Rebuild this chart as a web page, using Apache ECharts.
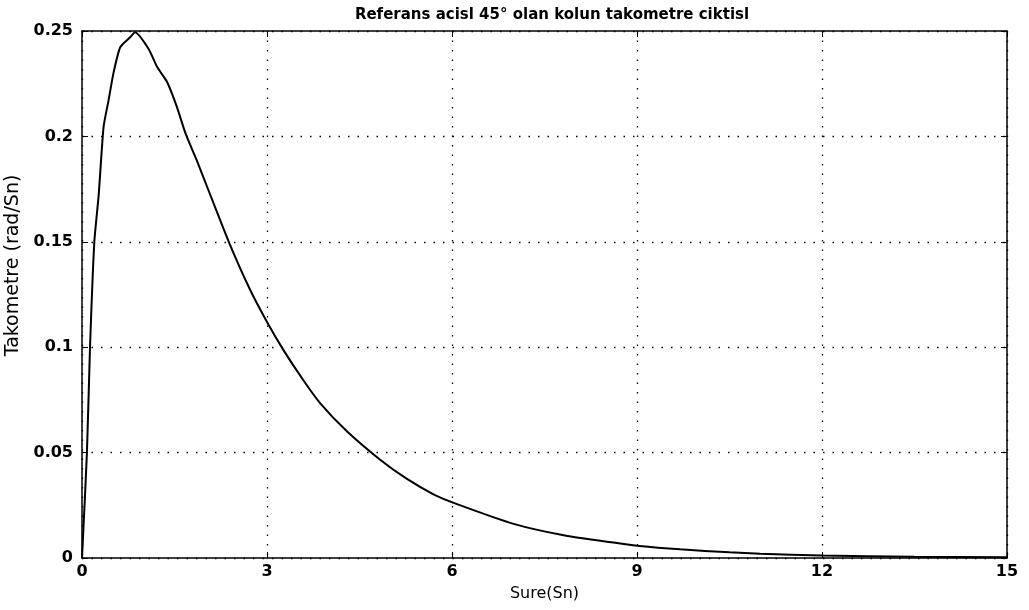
<!DOCTYPE html>
<html>
<head>
<meta charset="utf-8">
<script src="https://cdn.jsdelivr.net/npm/echarts@6/dist/echarts.min.js"></script>
<style>
html,body{margin:0;padding:0;background:#fff;}
#c{width:1029px;height:610px;}
</style>
</head>
<body>
<div id="c"></div>
<script>
const titleText = 'Referans acisl 45° olan kolun takometre ciktisl';
const xName = 'Sure(Sn)';
const yName = 'Takometre (rad/Sn)';
const xTicks = [0, 3, 6, 9, 12, 15];
const yTicks = [0, 0.05, 0.1, 0.15, 0.2, 0.25];
const time = [0, 0.08, 0.13, 0.2, 0.27, 0.35, 0.43, 0.51, 0.62, 0.78, 0.86, 1.08, 1.22, 1.38, 1.54, 1.68, 1.86, 2.03, 2.38, 2.73, 3.0, 3.27, 3.59, 3.86, 4.3, 4.84, 5.27, 5.7, 6.06, 7.0, 7.81, 8.62, 9.04, 9.7, 10.5, 11.0, 12.0, 13.5, 15.0];
const tach = [0, 0.05, 0.1, 0.15, 0.172, 0.2045, 0.217, 0.23, 0.2423, 0.247, 0.2494, 0.2415, 0.2329, 0.2258, 0.2139, 0.2013, 0.1887, 0.176, 0.15, 0.127, 0.112, 0.0985, 0.0843, 0.0735, 0.060, 0.0465, 0.0375, 0.0302, 0.0258, 0.0162, 0.0108, 0.0073, 0.0057, 0.0041, 0.0027, 0.0020, 0.0012, 0.0006, 0.0003];

const pts = time.map((t, i) => [t, tach[i]]);
const font = 'DejaVu Sans, Liberation Sans, Arial, sans-serif';
const chart = echarts.init(document.getElementById('c'), null, {renderer: 'canvas'});
const lineStyle = {color: '#000', width: 1.5};
const gridDots = {color: '#000', type: [1.5, 8], width: 1.3};
chart.setOption({
  animation: false,
  backgroundColor: '#fff',
  title: {
    text: titleText, left: 547, top: 3, textAlign: 'center',
    textStyle: {fontFamily: font, fontSize: 15, fontWeight: 'bold', color: '#000'}
  },
  grid: {left: 82, right: 22, top: 31, bottom: 52, containLabel: false, outerBoundsMode: 'none', show: false},
  xAxis: [{
    type: 'value', min: 0, max: 15, interval: 3,
    name: xName, nameLocation: 'middle', nameGap: 28,
    nameTextStyle: {fontFamily: font, fontSize: 16, color: '#000'},
    axisLine: {show: true, onZero: false, lineStyle: lineStyle},
    axisTick: {show: true, inside: true, length: 6, lineStyle: {color: '#000', width: 1}},
    axisLabel: {fontFamily: font, fontSize: 16, fontWeight: 'bold', color: '#000', margin: 6,
      customValues: xTicks},
    splitLine: {show: true, lineStyle: gridDots}
  }, {
    type: 'value', min: 0, max: 15, interval: 3, position: 'top',
    axisLine: {show: true, onZero: false, lineStyle: lineStyle},
    axisTick: {show: true, inside: true, length: 6, lineStyle: {color: '#000', width: 1}},
    axisLabel: {show: false}, splitLine: {show: false}
  }],
  yAxis: [{
    type: 'value', min: 0, max: 0.25, interval: 0.05,
    name: yName, nameLocation: 'middle', nameGap: 56,
    nameTextStyle: {fontFamily: font, fontSize: 19, color: '#000', padding: [0, 0, 0, 58]},
    axisLine: {show: true, onZero: false, lineStyle: lineStyle},
    axisTick: {show: true, inside: true, length: 6, lineStyle: {color: '#000', width: 1}},
    axisLabel: {fontFamily: font, fontSize: 16, fontWeight: 'bold', color: '#000', margin: 9,
      customValues: yTicks,
      formatter: v => String(parseFloat(v.toFixed(2)))},
    splitLine: {show: true, lineStyle: gridDots}
  }, {
    type: 'value', min: 0, max: 0.25, interval: 0.05, position: 'right',
    axisLine: {show: true, onZero: false, lineStyle: lineStyle},
    axisTick: {show: true, inside: true, length: 6, lineStyle: {color: '#000', width: 1}},
    axisLabel: {show: false}, splitLine: {show: false}
  }],
  series: [{
    type: 'line', data: pts, xAxisIndex: 0, yAxisIndex: 0,
    showSymbol: false, smooth: 0.2,
    lineStyle: {color: '#000', width: 2}
  }]
});
</script>
</body>
</html>
